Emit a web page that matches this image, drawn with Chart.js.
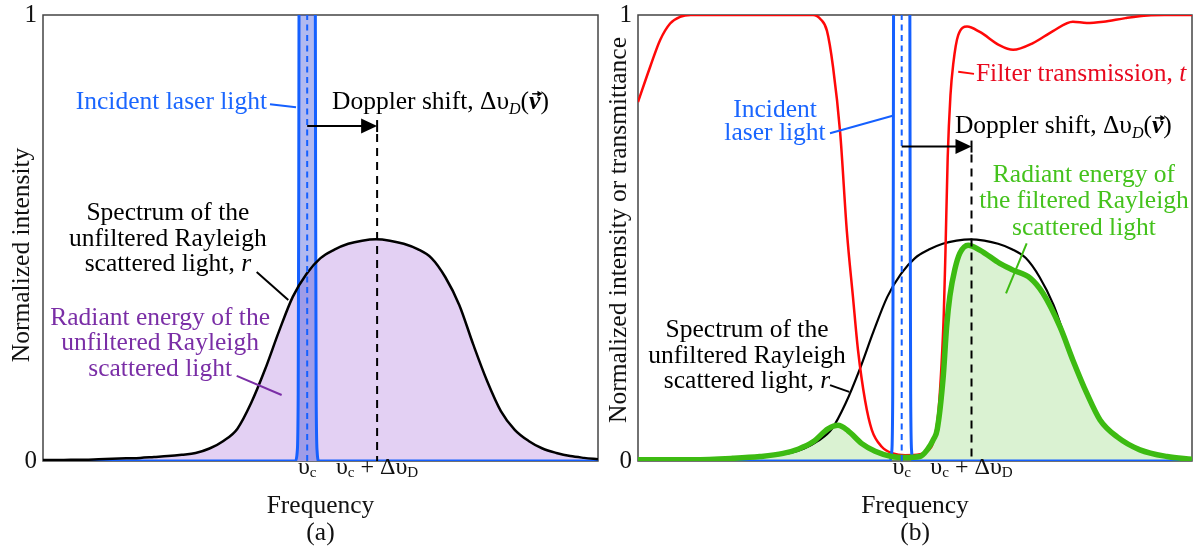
<!DOCTYPE html>
<html><head><meta charset="utf-8">
<script src="https://cdn.jsdelivr.net/npm/chart.js@4"></script>
<style>
html,body{margin:0;padding:0;background:#fff;width:1194px;height:548px;overflow:hidden;}
#wa{position:absolute;left:0;top:0;width:600px;height:548px;}
#wb{position:absolute;left:597px;top:0;width:597px;height:548px;}
</style></head><body>
<div id="wa"><canvas id="ca" width="600" height="548"></canvas></div>
<div id="wb"><canvas id="cb" width="597" height="548"></canvas></div>
<script>
// ---------- DATA (frequency in arbitrary units, 0..100 across each panel) ----------
const frequency = [0,2.5,5,7.5,10,12.5,15,17.5,20,22.5,25,27.5,30,32.5,35,37.5,40,42.5,45,47.5,50,52.5,55,57.5,60,62.5,65,67.5,70,72.5,75,77.5,80,82.5,85,87.5,90,92.5,95,97.5,100];
const rayleighR = [0.002,0.002,0.003,0.003,0.004,0.005,0.006,0.007,0.009,0.011,0.014,0.018,0.028,0.045,0.072,0.13,0.205,0.29,0.368,0.42,0.455,0.474,0.487,0.494,0.497,0.494,0.487,0.475,0.455,0.412,0.35,0.262,0.18,0.112,0.07,0.045,0.028,0.018,0.011,0.007,0.004];

const laserFreq = [0,45.5,45.8,45.98,46.08,46.18,47.6,49.02,49.12,49.22,49.4,49.7,100];
const laserIntensity = [0,0,0.02,0.15,0.6,1.4,3.0,1.4,0.6,0.15,0.02,0,0];

const filterFreq = [0,2.2,4.0,5.8,7.6,9.5,31.6,33.0,34.1,35.2,36.5,37.7,38.8,39.7,41.0,42.2,44.0,46.0,48.2,50.9,52.5,53.3,54.2,54.8,55.2,55.5,55.9,56.4,56.9,57.8,59.4,61.7,65.3,67.7,71.3,74.9,78.5,81.0,84.0,88.0,92.0,95.0,100];
const filterT = [0.805,0.884,0.944,0.981,0.996,1.0,1.0,0.99,0.965,0.884,0.735,0.515,0.368,0.25,0.135,0.07,0.032,0.017,0.013,0.015,0.025,0.042,0.107,0.219,0.331,0.47,0.68,0.82,0.89,0.955,0.974,0.962,0.932,0.922,0.937,0.964,0.985,0.982,0.985,0.993,0.999,1.0,1.0];

const filteredFreq = [0,10,17.1,22,26.2,29,31.6,34.3,36.1,37.9,40.4,42.8,45.8,48.2,50.9,52.2,53.4,54.0,55.1,55.7,56.3,57.2,58.1,59.6,61.7,65.3,67.7,70.8,73.1,76.2,78.5,81.0,83.4,86.5,90.6,95.5,100];
const filteredI = [0.003,0.003,0.006,0.01,0.017,0.027,0.043,0.072,0.08,0.068,0.039,0.022,0.01,0.008,0.01,0.025,0.05,0.07,0.19,0.3,0.37,0.43,0.466,0.484,0.473,0.443,0.428,0.41,0.376,0.30,0.226,0.152,0.092,0.054,0.025,0.01,0.004];

const yTickValues = [0, 1];
const xTickValues = [47.6, 60.2];           // υc and υc + ΔυD
const xTickLabels = [
  [{t:'υ'},{t:'c',sub:1}],
  [{t:'υ'},{t:'c',sub:1},{t:' + Δυ'},{t:'D',sub:1}]
];

// ---------- STYLE ----------
const FAM = "'Liberation Serif','Times New Roman',Times,serif";
const BLUE = '#1560ff', BLUE_T = '#1a66ff';
const RED = '#ff0808', RED_T = '#e8081e';
const GREEN = '#3dbb12', GREEN_T = '#44c21c', GREEN_FILL = 'rgba(70,190,30,0.2)';
const PURPLE = '#7a2ea6', LILAC = '#e3d0f3', LASER_FILL = 'rgba(50,70,215,0.38)';
const TXT = 25.5;

function pts(xs, ys){ return xs.map((x,i)=>({x:x, y:ys[i]})); }

function drawRich(ctx, segs, x, y, align, size, color, subDy){
  const parts = segs.map(s=>{
    const sz = s.sub ? size*0.63 : size;
    const st = s.bi ? 'italic bold ' : (s.it ? 'italic ' : '');
    ctx.font = st + sz + 'px ' + FAM;
    return {s:s, f:ctx.font, w:ctx.measureText(s.t).width};
  });
  const total = parts.reduce((a,p)=>a+p.w,0);
  let cx = align==='center' ? x-total/2 : (align==='right' ? x-total : x);
  ctx.fillStyle = color; ctx.textAlign='left'; ctx.textBaseline='alphabetic';
  for (const p of parts){
    ctx.font = p.f;
    ctx.fillText(p.s.t, cx, y + (p.s.sub ? subDy : 0));
    if (p.s.vec){
      const ay = y - size*0.6, x0 = cx + 3, x1 = cx + p.w + 1;
      ctx.save(); ctx.strokeStyle=color; ctx.fillStyle=color; ctx.lineWidth=1.4;
      ctx.beginPath(); ctx.moveTo(x0, ay); ctx.lineTo(x1-2, ay); ctx.stroke();
      ctx.beginPath(); ctx.moveTo(x1+1, ay); ctx.lineTo(x1-4, ay-3); ctx.lineTo(x1-4, ay+3); ctx.closePath(); ctx.fill();
      ctx.restore();
    }
    cx += p.w;
  }
}

const DOPPLER = [{t:'Doppler shift, Δυ'},{t:'D',it:1,sub:1},{t:'('},{t:'v',bi:1,vec:1},{t:')'}];
const SPECTRUM = [[{t:'Spectrum of the'}],[{t:'unfiltered Rayleigh'}],[{t:'scattered light, '},{t:'r',it:1}]];

function panelPlugin(cfg){
  return {
    id:'panel'+cfg.tag,
    beforeDatasetsDraw(chart){
      const {ctx, chartArea:a} = chart;
      ctx.save(); ctx.strokeStyle='#444'; ctx.lineWidth=1.5;
      ctx.strokeRect(a.left, a.top, a.right-a.left, a.bottom-a.top);
      ctx.restore();
    },
    afterDatasetsDraw(chart){
      const {ctx, chartArea:a} = chart;
      const xs = chart.scales.x, ys = chart.scales.y;
      const X = u=>xs.getPixelForValue(u), Y = v=>ys.getPixelForValue(v);
      ctx.save();
      // blue dashed centre line at υc
      ctx.strokeStyle = BLUE; ctx.lineWidth = 2; ctx.setLineDash([6,4.5]);
      ctx.beginPath(); ctx.moveTo(X(xTickValues[0]), a.bottom); ctx.lineTo(X(xTickValues[0]), a.top); ctx.stroke();
      // Doppler shift dashed line and arrow
      const ay = Y(cfg.arrowV), xe = X(xTickValues[1]), xs0 = X(xTickValues[0]);
      ctx.strokeStyle = '#000'; ctx.lineWidth = 2; ctx.setLineDash([8,6]);
      ctx.beginPath(); ctx.moveTo(xe, ay+8); ctx.lineTo(xe, a.bottom); ctx.stroke();
      ctx.setLineDash([]);
      ctx.beginPath(); ctx.moveTo(xe, ay-6); ctx.lineTo(xe, ay+6); ctx.stroke();
      ctx.beginPath(); ctx.moveTo(xs0, ay); ctx.lineTo(xe-14, ay); ctx.stroke();
      ctx.fillStyle = '#000';
      ctx.beginPath(); ctx.moveTo(xe, ay); ctx.lineTo(xe-16, ay-7.5); ctx.lineTo(xe-16, ay+7.5); ctx.closePath(); ctx.fill();
      // leader lines
      for (const l of cfg.leaders){
        ctx.strokeStyle = l.color; ctx.lineWidth = 2;
        ctx.beginPath(); ctx.moveTo(X(l.from[0]), Y(l.from[1])); ctx.lineTo(X(l.to[0]), Y(l.to[1])); ctx.stroke();
      }
      // annotation texts
      for (const t of cfg.texts){
        t.lines.forEach((ln,i)=>drawRich(ctx, ln, X(t.u), Y(t.v) + i*(t.lh||0), t.align, TXT, t.color, 5));
      }
      // x tick labels
      xTickValues.forEach((v,i)=>drawRich(ctx, xTickLabels[i], X(v), a.bottom+13, 'center', 24, '#111', 3));
      // x title and panel letter
      const cxm = (a.left+a.right)/2;
      ctx.fillStyle='#111'; ctx.textAlign='center'; ctx.textBaseline='alphabetic';
      ctx.font = TXT+'px '+FAM;
      ctx.fillText('Frequency', cxm, a.bottom+52);
      ctx.fillText(cfg.letter, cxm, a.bottom+79);
      // y title
      ctx.translate(a.left - cfg.yTitleDx, Y(cfg.yTitleV));
      ctx.rotate(-Math.PI/2);
      ctx.textBaseline='middle';
      ctx.fillText(cfg.yTitle, 0, 0);
      ctx.restore();
    }
  };
}

function makeChart(id, datasets, axisWidth, cfg){
  return new Chart(document.getElementById(id), {
    type:'line',
    data:{datasets:datasets},
    options:{
      responsive:false, animation:false, devicePixelRatio:1,
      layout:{padding:{top:15,right:2,bottom:87,left:0}},
      plugins:{legend:{display:false}, tooltip:{enabled:false}},
      elements:{point:{radius:0}, line:{cubicInterpolationMode:'monotone'}},
      scales:{
        x:{type:'linear', min:0, max:100, display:false},
        y:{type:'linear', min:0, max:1,
           afterBuildTicks(s){ s.ticks = yTickValues.map(v=>({value:v})); },
           ticks:{font:{family:FAM,size:25}, color:'#111', padding:6},
           grid:{display:false, drawTicks:false}, border:{display:false},
           afterFit(s){ s.width = axisWidth; s.paddingTop = 0; s.paddingBottom = 0; }}
      }
    },
    plugins:[panelPlugin(cfg)]
  });
}

const rPts = pts(frequency, rayleighR);
const laserPts = pts(laserFreq, laserIntensity);

// Panel (a)
makeChart('ca', [
  {label:'Spectrum r', data:rPts, borderColor:'#000', borderWidth:2.5, fill:false, order:0},
  {label:'Incident laser light', data:laserPts, borderColor:BLUE, borderWidth:3, fill:'origin', backgroundColor:LASER_FILL, order:1},
  {label:'Radiant energy (unfiltered)', data:rPts, borderColor:'rgba(0,0,0,0)', borderWidth:0, fill:'origin', backgroundColor:LILAC, order:2}
], 43, {
  tag:'a', letter:'(a)', yTitle:'Normalized intensity', yTitleDx:21, yTitleV:0.462, arrowV:0.751,
  texts:[
    {u:40.36, v:0.789, align:'right', color:BLUE_T, lines:[[{t:'Incident laser light'}]]},
    {u:52.07, v:0.789, align:'left', color:'#000', lines:[DOPPLER]},
    {u:22.5, v:0.540, align:'center', color:'#000', lh:25.5, lines:SPECTRUM},
    {u:21.1, v:0.305, align:'center', color:PURPLE, lh:25.5, lines:[[{t:'Radiant energy of the'}],[{t:'unfiltered Rayleigh'}],[{t:'scattered light'}]]}
  ],
  leaders:[
    {from:[40.9,0.800], to:[45.59,0.793], color:BLUE},
    {from:[38.5,0.424], to:[44.2,0.361], color:'#000'},
    {from:[34.9,0.191], to:[43.0,0.148], color:PURPLE}
  ]
});

// Panel (b)
makeChart('cb', [
  {label:'Filtered radiant energy', data:pts(filteredFreq, filteredI), borderColor:GREEN, borderWidth:5.5, fill:false, order:0},
  {label:'Incident laser light', data:laserPts, borderColor:BLUE, borderWidth:3, fill:false, order:1},
  {label:'Filter transmission t', data:pts(filterFreq, filterT), borderColor:RED, borderWidth:2.5, fill:false, order:2},
  {label:'Spectrum r', data:rPts, borderColor:'#000', borderWidth:2.2, fill:false, order:3},
  {label:'Filtered fill', data:pts(filteredFreq, filteredI), borderColor:'rgba(0,0,0,0)', borderWidth:0, fill:'origin', backgroundColor:GREEN_FILL, order:4}
], 41, {
  tag:'b', letter:'(b)', yTitle:'Normalized intensity or transmittance', yTitleDx:19, yTitleV:0.518, arrowV:0.705,
  texts:[
    {u:61.0, v:0.853, align:'left', color:RED_T, lines:[[{t:'Filter transmission, '},{t:'t',it:1}]]},
    {u:24.73, v:0.772, align:'center', color:BLUE_T, lh:23.5, lines:[[{t:'Incident'}],[{t:'laser light'}]]},
    {u:57.2, v:0.735, align:'left', color:'#000', lines:[DOPPLER]},
    {u:80.5, v:0.626, align:'center', color:GREEN_T, lh:26.5, lines:[[{t:'Radiant energy of'}],[{t:'the filtered Rayleigh'}],[{t:'scattered light'}]]},
    {u:19.68, v:0.277, align:'center', color:'#000', lh:25.5, lines:SPECTRUM}
  ],
  leaders:[
    {from:[57.8,0.873], to:[60.65,0.868], color:RED},
    {from:[34.66,0.735], to:[45.97,0.774], color:BLUE},
    {from:[70.16,0.488], to:[66.43,0.376], color:GREEN},
    {from:[34.66,0.170], to:[38.14,0.155], color:'#000'}
  ]
});
</script>
</body></html>
